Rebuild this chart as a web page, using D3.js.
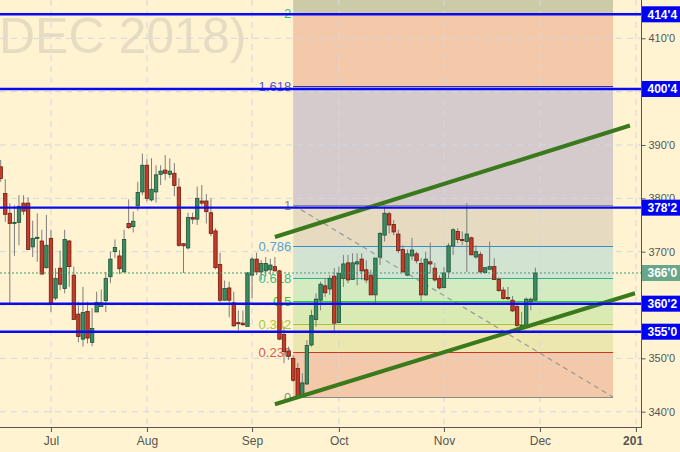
<!DOCTYPE html>
<html lang="en">
<head>
<meta charset="utf-8">
<title>Corn DEC 2018</title>
<script src="https://d3js.org/d3.v7.min.js"></script>
<style>
  body { margin: 0; background: #fff3d1; }
  svg { display: block; font-family: "Liberation Sans", Arial, sans-serif; }
</style>
</head>
<body>
<script>
// daily candles, mid-June .. Nov 30 2018 (trading-day index 0..117)
var open = [385.9,380.9,377.2,375.3,375.5,379.1,379.1,370.9,372.5,372.0,
  367.0,372.5,361.3,366.9,363.1,372.0,365.6,358.3,353.6,358.8,
  353.0,358.7,359.7,360.8,365.3,370.0,369.2,366.2,375.3,374.7,
  378.6,381.2,386.2,379.7,381.2,384.5,385.3,384.5,384.7,382.1,
  371.5,370.7,376.4,376.1,379.5,379.5,377.3,373.9,367.6,360.9,
  363.2,360.4,356.7,356.6,356.0,365.6,368.6,366.2,366.4,366.6,
  367.2,366.4,354.5,351.4,350.0,348.1,343.1,345.2,352.5,357.3,
  360.9,363.6,363.0,365.4,356.7,365.0,367.9,364.8,367.7,368.6,
  366.6,365.6,361.9,369.0,373.1,377.1,375.1,373.3,370.4,365.6,
  369.2,369.6,367.8,361.9,368.1,366.9,365.0,363.3,366.2,371.1,
  373.8,372.3,371.9,372.6,369.0,369.5,366.1,366.7,367.2,364.8,
  362.8,361.4,360.9,359.7,355.9,356.2,360.6,360.9];
var high = [387.2,383.6,379.1,378.7,380.6,380.6,380.2,375.8,377.2,374.1,
  376.9,374.1,366.9,370.2,374.1,372.2,367.2,360.6,363.4,360.6,
  359.4,362.5,362.9,366.2,370.0,372.3,370.3,374.1,379.8,377.5,
  383.1,388.4,387.3,387.5,386.2,386.2,388.1,387.5,386.6,383.8,
  371.6,377.3,377.3,382.2,382.5,380.8,380.0,374.4,369.8,364.6,
  364.4,362.5,359.0,359.0,366.2,369.0,369.8,368.4,369.0,368.7,
  369.0,366.6,355.9,352.2,350.6,349.1,347.2,353.4,359.1,362.2,
  364.4,365.0,365.6,366.9,367.2,369.4,369.4,369.7,369.7,369.7,
  368.4,366.6,368.8,373.7,378.4,377.5,375.9,374.1,371.2,370.4,
  372.6,370.0,368.8,370.0,371.7,367.9,365.6,367.1,371.6,374.4,
  374.4,373.8,379.1,372.8,371.2,370.0,367.0,371.9,368.8,365.2,
  363.4,363.4,361.7,360.3,358.7,361.4,361.4,367.0];
var low = [383.1,375.6,360.3,369.2,371.2,376.9,370.3,369.0,368.1,365.8,
  366.8,358.7,360.9,362.8,362.2,363.4,357.3,353.0,352.2,352.8,
  352.3,358.7,359.7,358.7,364.1,368.8,365.8,366.2,374.3,373.6,
  377.7,380.6,379.4,379.4,379.2,382.5,383.4,383.8,380.4,370.9,
  366.0,370.4,375.2,375.0,378.6,375.3,372.9,366.7,360.6,360.8,
  357.7,355.9,355.3,356.1,356.0,361.3,365.6,364.7,365.3,365.6,
  366.3,353.4,349.1,349.7,345.6,342.75,343.1,345.0,352.2,355.9,
  359.0,361.5,361.9,354.7,356.6,363.4,364.1,364.7,363.7,364.7,
  364.1,361.9,360.3,367.5,371.9,373.4,373.1,369.7,366.1,365.4,
  368.4,367.8,360.6,361.7,365.9,364.4,362.9,363.1,365.0,369.4,
  371.6,371.2,366.2,369.4,368.7,366.0,366.0,366.6,364.7,362.5,
  361.0,360.9,358.7,355.6,355.6,356.1,359.0,360.6];
var close = [383.7,377.0,375.3,375.5,378.5,377.6,370.4,372.5,372.7,365.8,
  371.2,360.2,365.0,363.9,372.3,367.2,357.3,354.1,358.6,353.8,
  355.6,360.5,360.4,365.0,368.6,370.8,366.8,372.3,374.5,375.7,
  381.1,386.2,380.0,381.7,384.4,385.1,384.7,385.1,382.4,371.2,
  371.1,376.4,376.1,380.0,379.1,377.5,373.4,367.0,360.9,363.1,
  360.9,356.1,356.5,356.3,366.0,368.6,366.2,367.8,367.8,367.5,
  366.4,353.6,351.3,350.4,345.9,342.9,345.4,352.4,358.0,361.1,
  363.9,362.3,365.0,356.6,365.9,367.7,364.7,367.9,368.1,366.4,
  364.7,361.9,368.8,373.4,377.2,375.0,373.7,370.2,366.2,369.6,
  370.3,368.3,361.9,368.6,367.7,364.7,363.2,366.0,371.1,374.1,
  372.3,372.2,373.3,369.4,370.0,366.2,367.0,367.2,364.8,362.7,
  361.2,361.2,358.9,356.2,356.2,361.1,361.1,366.0];

var monthLabels = ["Jul", "Aug", "Sep", "Oct", "Nov", "Dec", "2019"];
var monthIndex = [11, 32, 55, 74, 97, 118, 139];
var priceTicks = [340, 350, 360, 370, 380, 390, 400, 410];
var labelTicks = [340, 350, 370, 380, 390, 410];   // 360 and 400 sit under the level boxes

var levels = [414.5, 400.5, 378.25, 360.25, 355];   // blue horizontal lines
var lastPrice = 366;

// fibonacci tool: from the high (index 64) to the low (index 134)
var fibStart = 64, fibEnd = 134, fibHigh = 378.75, fibLow = 342.75;
var fibRatios = [0, 0.236, 0.382, 0.5, 0.618, 0.786, 1, 1.618, 2];
var fibLabels = ["0", "0.236", "0.382", "0.5", "0.618", "0.786", "1", "1.618", "2"];
var fibLine = ["#8a8a8a", "#c8392b", "#9cc43a", "#1ed21e", "#2fb38f", "#3d8fc4", "#8a8a8a", "#2a2ad0", "#2fc08f"];
var fibText = ["#8a8a8a", "#e05a4a", "#a8c83a", "#22d022", "#30c090", "#55a2d8", "#8a8a8a", "#5656c8", "#30c090"];
var fibFill = ["#f4c9a9", "#ece7ae", "#d9eab2", "#d4ebc2", "#d3e3d2", "#e6dbc1", "#d5cbcc", "#f4c9a9", "#cbcba7"];

// channel lines [index, price]
var channelUp = [[60, 372.75], [137.7, 393.65]];
var channelDown = [[60, 341.4], [138.8, 362.2]];

var W = 680, H = 452;
var plotR = 641.5, plotB = 427;

var x = d3.scaleLinear().domain([0, 139]).range([0.7, 635.9]);
var y = d3.scaleLinear().domain([340, 410]).range([411.7, 38.3]);

function fmt(v) {
  var w = Math.floor(v);
  return w + "'" + Math.round((v - w) * 8);
}

var svg = d3.select("body").append("svg")
  .attr("width", W).attr("height", H);

svg.append("rect").attr("width", W).attr("height", H).attr("fill", "#fff3d1");

svg.append("clipPath").attr("id", "plot")
  .append("rect").attr("x", 0).attr("y", 0).attr("width", plotR).attr("height", plotB);
// local coords of the x axis group (it is translated down by plotB)
svg.append("clipPath").attr("id", "xlab")
  .append("rect").attr("x", 0).attr("y", 0).attr("width", plotR + 1).attr("height", H - plotB);

var g = svg.append("g").attr("clip-path", "url(#plot)");

// watermark
g.append("text")
  .attr("x", -1).attr("y", 53)
  .attr("font-size", 50)
  .attr("fill", "#e6dcc2")
  .text("DEC 2018)");

// fib bands
var fx0 = x(fibStart), fx1 = x(fibEnd);
function fibPrice(r) { return fibLow + r * (fibHigh - fibLow); }
fibRatios.forEach(function(r, i) {
  var top = i < fibRatios.length - 1 ? y(fibPrice(fibRatios[i + 1])) : 0;
  var bot = y(fibPrice(r));
  g.append("rect")
    .attr("x", fx0).attr("y", top)
    .attr("width", fx1 - fx0).attr("height", bot - top)
    .attr("fill", fibFill[i]);
});

// grid
g.selectAll(".hgrid").data(priceTicks).enter().append("line")
  .attr("x1", 0).attr("x2", plotR)
  .attr("y1", function(d) { return y(d); }).attr("y2", function(d) { return y(d); })
  .attr("stroke", "#d5d6e2").attr("stroke-dasharray", "6,5");
g.selectAll(".vgrid").data(monthIndex).enter().append("line")
  .attr("x1", function(d) { return x(d); }).attr("x2", function(d) { return x(d); })
  .attr("y1", 0).attr("y2", plotB)
  .attr("stroke", "#d5d6e2").attr("stroke-dasharray", "6,5");

// fib level lines and labels
fibRatios.forEach(function(r, i) {
  var py = Math.round(y(fibPrice(r))) + 0.5;
  g.append("line")
    .attr("x1", fx0).attr("x2", fx1).attr("y1", py).attr("y2", py)
    .attr("stroke", fibLine[i]).attr("stroke-width", 1.2);
  g.append("text")
    .attr("x", fx0 - 2).attr("y", py)
    .attr("dy", "0.35em")
    .attr("text-anchor", "end")
    .attr("font-size", 13)
    .attr("fill", fibText[i])
    .text(fibLabels[i]);
});

// diagonal of the fib tool
g.append("line")
  .attr("x1", fx0).attr("y1", y(fibHigh))
  .attr("x2", fx1).attr("y2", y(fibLow))
  .attr("stroke", "#999").attr("stroke-width", 1.2)
  .attr("stroke-dasharray", "5,4");

// candles
var idx = d3.range(open.length);
var bw = 3.4;
g.selectAll(".wick").data(idx).enter().append("line")
  .attr("x1", function(i) { return x(i); }).attr("x2", function(i) { return x(i); })
  .attr("y1", function(i) { return y(high[i]); })
  .attr("y2", function(i) { return y(low[i]); })
  .attr("stroke", "#7d7d7d").attr("stroke-width", 1);
g.selectAll(".body").data(idx).enter().append("rect")
  .attr("x", function(i) { return x(i) - bw / 2; })
  .attr("y", function(i) { return y(Math.max(open[i], close[i])); })
  .attr("width", bw)
  .attr("height", function(i) { return Math.max(1.2, Math.abs(y(open[i]) - y(close[i]))); })
  .attr("fill", function(i) { return close[i] >= open[i] ? "#3a8c62" : "#c63a28"; })
  .attr("stroke", function(i) { return close[i] >= open[i] ? "#1f5238" : "#6b1d12"; })
  .attr("stroke-width", 0.8);

// channel
var line = d3.line().x(function(d) { return x(d[0]); }).y(function(d) { return y(d[1]); });
[channelUp, channelDown].forEach(function(c) {
  g.append("path").attr("d", line(c))
    .attr("stroke", "#3b7a1c").attr("stroke-width", 4)
    .attr("stroke-linecap", "butt").attr("fill", "none");
});

// last price line
g.append("line")
  .attr("x1", 0).attr("x2", plotR)
  .attr("y1", y(lastPrice)).attr("y2", y(lastPrice))
  .attr("stroke", "#3f9a72").attr("stroke-dasharray", "2,2");

// blue levels
g.selectAll(".lvl").data(levels).enter().append("line")
  .attr("x1", 0).attr("x2", plotR)
  .attr("y1", function(d) { return y(d); }).attr("y2", function(d) { return y(d); })
  .attr("stroke", "#0a0af0").attr("stroke-width", 2.4);

// axes
var yAxis = d3.axisRight(y).tickValues(priceTicks).tickSize(4).tickPadding(3)
  .tickFormat(function(d) { return labelTicks.indexOf(d) >= 0 ? fmt(d) : ""; });
var ya = svg.append("g").attr("transform", "translate(" + plotR + ",0)").call(yAxis);
ya.select(".domain").remove();
ya.selectAll("line").attr("stroke", "#555");
ya.selectAll("text").attr("font-size", 11).attr("fill", "#555")
  .attr("font-family", "Liberation Sans, Arial, sans-serif");

var xAxis = d3.axisBottom(x).tickValues(monthIndex).tickSize(5).tickPadding(4)
  .tickFormat(function(d, i) { return monthLabels[i]; });
var xa = svg.append("g").attr("transform", "translate(0," + plotB + ")")
  .attr("clip-path", "url(#xlab)").call(xAxis);
xa.select(".domain").remove();
xa.selectAll("line").attr("stroke", "#555");
xa.selectAll("text").attr("font-size", 12).attr("fill", "#555")
  .attr("font-family", "Liberation Sans, Arial, sans-serif")
  .attr("font-weight", function(d, i) { return i == monthLabels.length - 1 ? "bold" : "normal"; });

svg.append("line").attr("x1", 0).attr("x2", plotR + 0.5).attr("y1", plotB + 0.5).attr("y2", plotB + 0.5)
  .attr("stroke", "#555");
svg.append("line").attr("x1", plotR).attr("x2", plotR).attr("y1", 0).attr("y2", plotB + 0.5)
  .attr("stroke", "#555");

// price boxes on the right
function priceBox(v, color) {
  var py = y(v);
  svg.append("rect")
    .attr("x", plotR + 0.5).attr("y", py - 8)
    .attr("width", W - plotR).attr("height", 16)
    .attr("fill", color);
  svg.append("text")
    .attr("x", plotR + 6).attr("y", py)
    .attr("dy", "0.36em")
    .attr("font-size", 12).attr("font-weight", "bold")
    .attr("fill", "#fff")
    .text(fmt(v));
}
levels.forEach(function(v) { priceBox(v, "#0000f5"); });
priceBox(lastPrice, "#69a68a");
</script>
</body>
</html>
